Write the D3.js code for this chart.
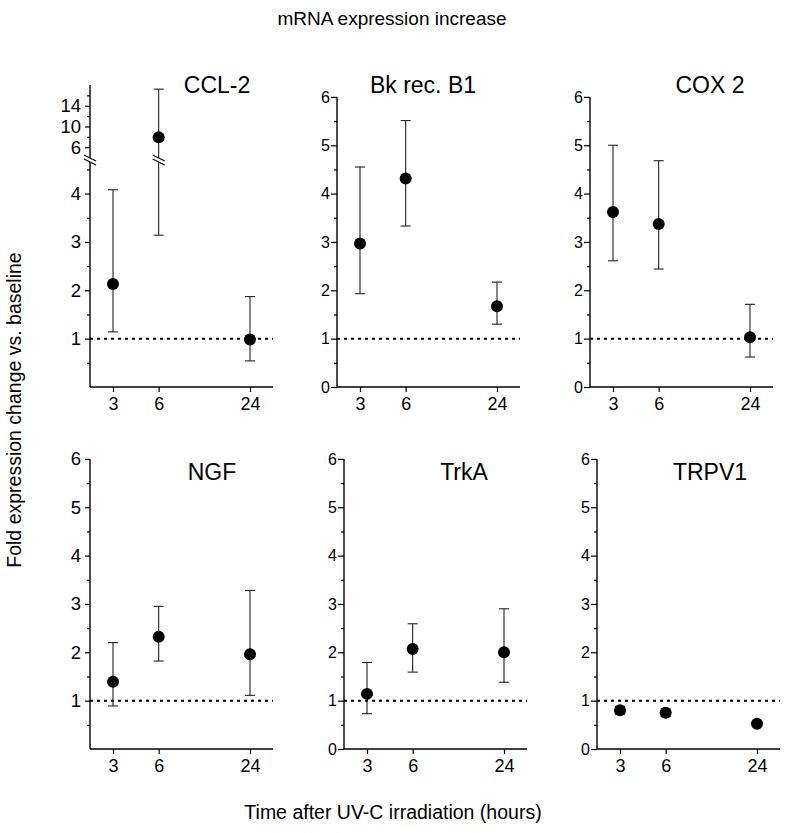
<!DOCTYPE html>
<html><head><meta charset="utf-8">
<script src="https://cdn.jsdelivr.net/npm/d3@7"></script>
<style>body{margin:0;background:#fff} text{font-family:Arial,"Liberation Sans",sans-serif;fill:#000}</style>
</head><body><svg id="c" width="785" height="833"></svg>
<script>
// ---------- data ----------
const times = [3, 6, 24];
const xTickLabels = ["3", "6", "24"];
const geneNames = ["CCL-2", "Bk rec. B1", "COX 2", "NGF", "TrkA", "TRPV1"];
const ccl2Mean = [2.13, 7.9, 0.98],  ccl2Hi = [4.08, 17.2, 1.87], ccl2Lo = [1.14, 3.14, 0.54];
const bkMean   = [2.97, 4.31, 1.67], bkHi   = [4.55, 5.51, 2.17], bkLo   = [1.93, 3.33, 1.30];
const coxMean  = [3.62, 3.37, 1.03], coxHi  = [5.00, 4.68, 1.71], coxLo  = [2.61, 2.44, 0.62];
const ngfMean  = [1.39, 2.32, 1.96], ngfHi  = [2.20, 2.95, 3.28], ngfLo  = [0.89, 1.82, 1.11];
const trkaMean = [1.14, 2.07, 2.00], trkaHi = [1.79, 2.59, 2.90], trkaLo = [0.73, 1.59, 1.38];
const trpv1Mean= [0.80, 0.75, 0.52], trpv1Hi= [0.88, 0.83, 0.56], trpv1Lo= [0.72, 0.67, 0.48];
const yTickValues = [0, 1, 2, 3, 4, 5, 6];
const yMinorValues = [0.5, 1.5, 2.5, 3.5, 4.5, 5.5];
const ccl2LowTicks = [1, 2, 3, 4], ccl2LowMinor = [0.5, 1.5, 2.5, 3.5, 4.5];
const ccl2HighTicks = [6, 10, 14], ccl2HighMinor = [8, 12, 16];
const baseline = 1;

const seriesMean = [ccl2Mean, bkMean, coxMean, ngfMean, trkaMean, trpv1Mean];
const seriesHi = [ccl2Hi, bkHi, coxHi, ngfHi, trkaHi, trpv1Hi];
const seriesLo = [ccl2Lo, bkLo, coxLo, ngfLo, trkaLo, trpv1Lo];

// ---------- layout ----------
const panelX = [90, 337, 590, 90, 344, 597];
const panelY = [387, 387, 387, 749, 749, 749];
const titleX = [217, 423, 710, 212, 464, 710];
const bigLabels = [true, false, false, true, false, false];
const showZero = [false, true, true, false, true, true];
const W = 183, unit = 48.35;

const svg = d3.select("#c");

svg.append("text").attr("x", 392).attr("y", 25).attr("text-anchor", "middle")
  .style("font-size", "19px").text("mRNA expression increase");
svg.append("text").attr("transform", "translate(21,410) rotate(-90)").attr("text-anchor", "middle")
  .style("font-size", "19.5px").text("Fold expression change vs. baseline");
svg.append("text").attr("x", 393).attr("y", 819).attr("text-anchor", "middle")
  .style("font-size", "19.5px").text("Time after UV-C irradiation (hours)");

function styleAxis(g, fs) {
  g.select(".domain").remove();
  g.selectAll("line").attr("stroke", "#000").attr("stroke-width", 1.2);
  g.selectAll("text").style("font-size", fs + "px").attr("fill", "#000")
    .style("font-family", 'Arial,"Liberation Sans",sans-serif');
}

geneNames.forEach((name, i) => {
  const x0 = panelX[i], y0 = panelY[i];
  const g = svg.append("g").attr("transform", `translate(${x0},${y0})`);
  const x = d3.scaleLog().domain([3, 24]).range([23, 160]);
  const fs = bigLabels[i] ? 18.5 : 16;
  const tSize = bigLabels[i] ? 5 : 6, tPad = bigLabels[i] ? 4 : 1;
  let yf, topY;
  if (i === 0) {
    const yLow = d3.scaleLinear().domain([0, 4.6]).range([0, -4.6 * unit]);
    const yHigh = d3.scaleLinear().domain([4.5, 18]).range([-232, -302]);
    yf = v => v <= 4.6 ? yLow(v) : yHigh(v);
    topY = yHigh(18);
    const a1 = g.append("g").call(d3.axisLeft(yLow).tickValues(ccl2LowTicks).tickSize(tSize).tickPadding(tPad).tickFormat(d3.format("d")));
    styleAxis(a1, fs);
    const a2 = g.append("g").call(d3.axisLeft(yLow).tickValues(ccl2LowMinor).tickSize(3).tickFormat(""));
    styleAxis(a2, fs);
    const a3 = g.append("g").call(d3.axisLeft(yHigh).tickValues(ccl2HighTicks).tickSize(tSize).tickPadding(tPad).tickFormat(d3.format("d")));
    styleAxis(a3, fs);
    const a4 = g.append("g").call(d3.axisLeft(yHigh).tickValues(ccl2HighMinor).tickSize(3).tickFormat(""));
    styleAxis(a4, fs);
  } else {
    const y = d3.scaleLinear().domain([0, 6]).range([0, -6 * unit]);
    yf = y;
    topY = y(6);
    const majors = showZero[i] ? yTickValues : yTickValues.slice(1);
    const a1 = g.append("g").call(d3.axisLeft(y).tickValues(majors).tickSize(tSize).tickPadding(tPad).tickFormat(d3.format("d")));
    styleAxis(a1, fs);
    const a2 = g.append("g").call(d3.axisLeft(y).tickValues(yMinorValues).tickSize(3).tickFormat(""));
    styleAxis(a2, fs);
  }
  // axis lines
  g.append("line").attr("x1", 0).attr("x2", 0).attr("y1", 0).attr("y2", topY)
    .attr("stroke", "#000").attr("stroke-width", 1.4);
  g.append("line").attr("x1", 0).attr("x2", W).attr("y1", 0).attr("y2", 0)
    .attr("stroke", "#000").attr("stroke-width", 1.4);
  const ax = g.append("g").call(d3.axisBottom(x).tickValues(times).tickSize(5).tickPadding(5)
    .tickFormat((d, k) => xTickLabels[k]));
  styleAxis(ax, 18);

  // baseline dotted line
  g.append("line").attr("x1", 0).attr("x2", W).attr("y1", yf(baseline)).attr("y2", yf(baseline))
    .attr("stroke", "#000").attr("stroke-width", 2).attr("stroke-dasharray", "3,4");

  // error bars
  const mean = seriesMean[i], hi = seriesHi[i], lo = seriesLo[i];
  times.forEach((t, k) => {
    const cx = x(t);
    g.append("line").attr("x1", cx).attr("x2", cx).attr("y1", yf(lo[k])).attr("y2", yf(hi[k]))
      .attr("stroke", "#222").attr("stroke-width", 1.1);
    [lo[k], hi[k]].forEach(v => {
      g.append("line").attr("x1", cx - 5).attr("x2", cx + 5).attr("y1", yf(v)).attr("y2", yf(v))
        .attr("stroke", "#222").attr("stroke-width", 1.1);
    });
    g.append("circle").attr("cx", cx).attr("cy", yf(mean[k])).attr("r", 6).attr("fill", "#000");
  });

  // break marks for CCL-2
  if (i === 0) {
    const by = -227;
    [0, x(6)].forEach(bx => {
      g.append("polygon")
        .attr("points", `${bx - 6},${by - 5} ${bx + 6},${by + 1} ${bx + 6},${by + 5} ${bx - 6},${by - 1}`)
        .attr("fill", "#fff");
      [-2, 2].forEach(o => {
        g.append("line").attr("x1", bx - 6).attr("y1", by - 3 + o).attr("x2", bx + 6).attr("y2", by + 3 + o)
          .attr("stroke", "#000").attr("stroke-width", 1.1);
      });
    });
  }

  // title
  svg.append("text").attr("x", titleX[i]).attr("y", i < 3 ? 93 : 480).attr("text-anchor", "middle")
    .style("font-size", "23px").text(name);
});
</script>
</body></html>
